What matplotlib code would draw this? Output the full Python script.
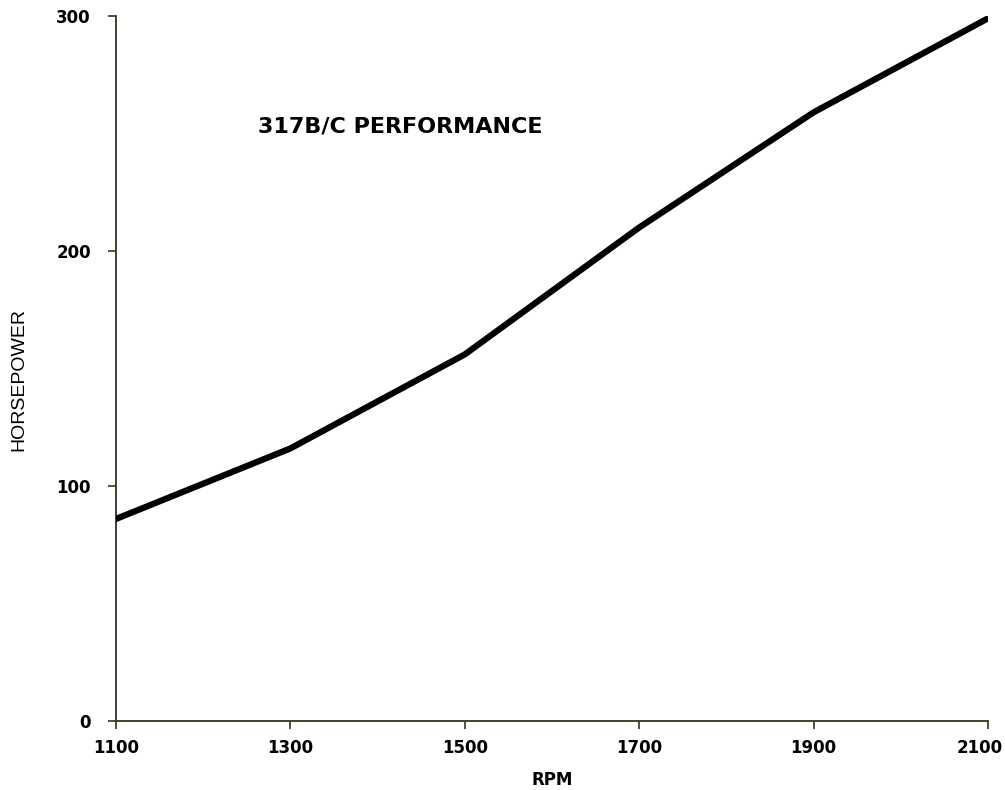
import matplotlib.pyplot as plt
from matplotlib.transforms import ScaledTranslation

rpm = [1100, 1300, 1500, 1700, 1900, 2100]
horsepower = [86, 116, 156, 210, 259, 299]

x_ticks = [1100, 1300, 1500, 1700, 1900, 2100]
y_ticks = [0, 100, 200, 300]

plt.rcParams['font.family'] = ['Liberation Sans', 'DejaVu Sans']
bold_font = 'DejaVu Sans'

fig = plt.figure(figsize=(10.05, 7.9), dpi=100)
ax = fig.add_axes([0.1154, 0.0873, 0.8676, 0.8924])

ax.plot(rpm, horsepower, color='black', linewidth=4.5, solid_capstyle='round',
        solid_joinstyle='round', zorder=3)

ax.set_xlim(1100, 2100)
ax.set_ylim(0, 300)
ax.set_xticks(x_ticks)
ax.set_yticks(y_ticks)
ax.tick_params(axis='both', direction='out', length=6, width=1.2, colors='#333322',
               labelcolor='black', labelsize=12)
ax.tick_params(axis='x', pad=7)
ax.tick_params(axis='y', pad=12)
for lbl in ax.get_xticklabels() + ax.get_yticklabels():
    lbl.set_fontweight('bold')
    lbl.set_family(bold_font)

# last x label sits a little left of its tick, as in the original
last = ax.get_xticklabels()[-1]
last.set_transform(last.get_transform() + ScaledTranslation(-0.08, 0, fig.dpi_scale_trans))

for side in ['top', 'right']:
    ax.spines[side].set_visible(False)
for side in ['left', 'bottom']:
    ax.spines[side].set_color('#333322')
    ax.spines[side].set_linewidth(1.3)

ax.set_xlabel('RPM', fontsize=12, fontweight='bold', family=bold_font, labelpad=10)
ax.set_ylabel('HORSEPOWER', fontsize=14)
ax.yaxis.set_label_coords(-0.102, 0.485)
ax.text(1263, 253, '317B/C PERFORMANCE', fontsize=16, fontweight='bold',
        family=bold_font, ha='left', va='center')

fig.savefig('out.png', dpi=100)
